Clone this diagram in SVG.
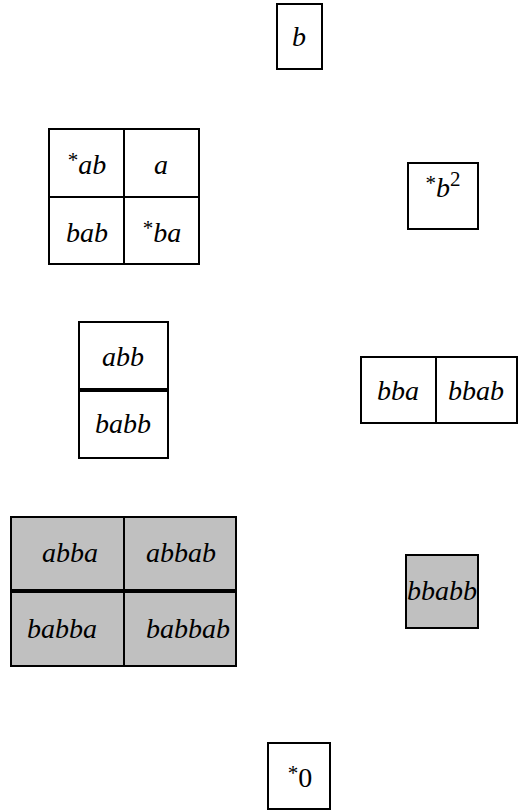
<svg xmlns="http://www.w3.org/2000/svg" width="518" height="812" viewBox="0 0 518 812">
<style>
.b{fill:#fff;stroke:#000;stroke-width:2}
.g{fill:#c0c0c0;stroke:#000;stroke-width:2}
.l{stroke:#000;stroke-width:2}
text{font-family:"Liberation Serif","DejaVu Serif",serif;font-style:italic;font-size:28px;text-anchor:middle;fill:#000}
.s{font-style:normal;font-size:21px}
.n{font-style:normal}
</style>
<rect width="518" height="812" fill="#fff"/>
<g id="node-b">
<rect class="b" x="277" y="4" width="45" height="65"/>
<text x="299" y="46">b</text>
</g>
<g id="node-ab-grid">
<rect class="b" x="49" y="129" width="150" height="135"/>
<line class="l" x1="124" y1="129" x2="124" y2="264"/>
<line class="l" x1="49" y1="197" x2="199" y2="197"/>
<text x="87" y="174"><tspan class="s" dy="-7">*</tspan><tspan dy="7">ab</tspan></text>
<text x="161" y="174">a</text>
<text x="87" y="242">bab</text>
<text x="162" y="242"><tspan class="s" dy="-7">*</tspan><tspan dy="7">ba</tspan></text>
</g>
<g id="node-b2">
<rect class="b" x="408" y="163" width="70" height="66"/>
<text x="443" y="197"><tspan class="s" dy="-7">*</tspan><tspan dy="7">b</tspan><tspan class="s" dy="-11">2</tspan></text>
</g>
<g id="node-abb">
<rect class="b" x="79" y="322" width="89" height="67"/>
<rect class="b" x="79" y="391" width="89" height="67"/>
<text x="123" y="366">abb</text>
<text x="123" y="433">babb</text>
</g>
<g id="node-bba">
<rect class="b" x="361" y="357" width="156" height="66"/>
<line class="l" x1="436" y1="357" x2="436" y2="423"/>
<text x="398" y="400">bba</text>
<text x="476" y="400">bbab</text>
</g>
<g id="node-abba-grid">
<rect class="g" x="11" y="517" width="225" height="73"/>
<rect class="g" x="11" y="592" width="225" height="74"/>
<line class="l" x1="124" y1="517" x2="124" y2="666"/>
<text x="70" y="562">abba</text>
<text x="181" y="562">abbab</text>
<text x="62" y="638">babba</text>
<text x="188" y="638">babbab</text>
</g>
<g id="node-bbabb">
<rect class="g" x="406" y="555" width="72" height="73"/>
<text x="442" y="600">bbabb</text>
</g>
<g id="node-0">
<rect class="b" x="268" y="743" width="62" height="66"/>
<text x="300" y="787"><tspan class="s" dy="-7">*</tspan><tspan class="n" dy="7">0</tspan></text>
</g>
</svg>
